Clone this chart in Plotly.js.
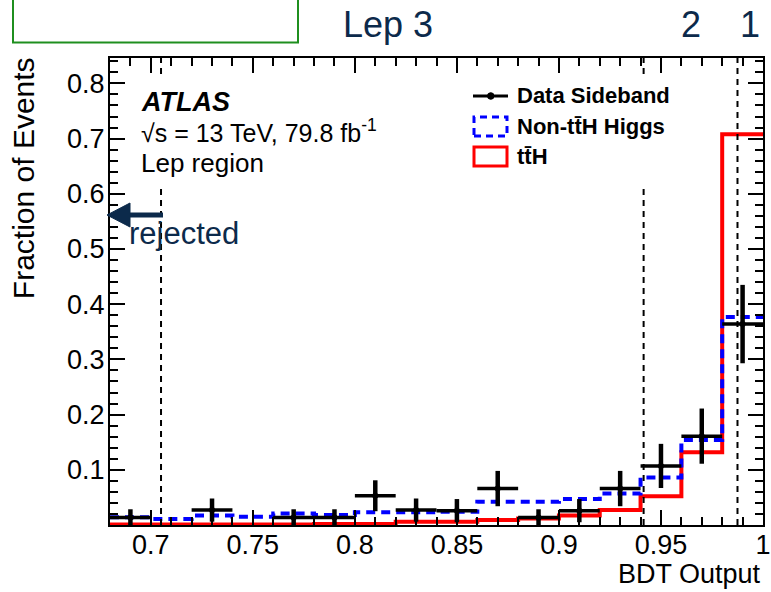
<!DOCTYPE html>
<html>
<head>
<meta charset="utf-8">
<script src="https://cdn.plot.ly/plotly-3.0.1.min.js"></script>
<style>
  html, body { margin: 0; padding: 0; background: #ffffff; }
  #chart { width: 771px; height: 592px; }
</style>
</head>
<body>
<div id="chart"></div>
<script>
// BDT output binning: 16 bins of width 0.02
const binEdges = [0.68, 0.70, 0.72, 0.74, 0.76, 0.78, 0.80, 0.82, 0.84,
                  0.86, 0.88, 0.90, 0.92, 0.94, 0.96, 0.98, 1.00];

// Normalised shapes (fraction of events per bin)
const ttH         = [0.001, 0.001, 0.001, 0.001, 0.001, 0.002, 0.002, 0.006,
                     0.006, 0.009, 0.012, 0.017, 0.027, 0.052, 0.132, 0.708];
const nonTTHHiggs = [0.014, 0.011, 0.017, 0.015, 0.021, 0.018, 0.023, 0.023,
                     0.024, 0.042, 0.042, 0.047, 0.057, 0.086, 0.154, 0.377];

// Sideband data (empty bins are null)
const dataSideband = [0.0135, null, 0.027, null, 0.0135, 0.0135, 0.053, 0.027,
                      0.026, 0.066, 0.0135, 0.026, 0.066, 0.107, 0.161, 0.364];
const dataError    = [0.015, null, 0.021, null, 0.015, 0.015, 0.028, 0.021,
                      0.021, 0.032, 0.015, 0.021, 0.032, 0.040, 0.050, 0.071];

// Category boundaries on the BDT output and their names
const categoryCuts   = [0.705, 0.9415, 0.9875];
const categoryLabels = ['Lep 3', '2', '1'];

// Axis ticks
const xTickVals = [0.7, 0.75, 0.8, 0.85, 0.9, 0.95, 1.0];
const xTickText = ['0.7', '0.75', '0.8', '0.85', '0.9', '0.95', '1'];
const yTickVals = [0.1, 0.2, 0.3, 0.4, 0.5, 0.6, 0.7, 0.8];
const yTickText = ['0.1', '0.2', '0.3', '0.4', '0.5', '0.6', '0.7', '0.8'];

const FONT = 'Liberation Sans, Arial, Helvetica, sans-serif';
const NAVY = '#0c2a4b';

// step outline: one point per left edge plus the closing right edge
function stepY(vals) { return vals.concat([vals[vals.length - 1]]); }

const filled = dataSideband.map((v, i) => (v === null ? -1 : i)).filter(i => i >= 0);

const traces = [
  {
    type: 'scatter', mode: 'lines', name: 'tt\u0304H',
    x: binEdges, y: stepY(ttH),
    line: { shape: 'hv', color: '#ff0000', width: 4 },
    showlegend: false, hoverinfo: 'skip'
  },
  {
    type: 'scatter', mode: 'lines', name: 'Non-tt\u0304H Higgs',
    x: binEdges, y: stepY(nonTTHHiggs),
    line: { shape: 'hv', color: '#0000ff', width: 4, dash: '9px,6px' },
    showlegend: false, hoverinfo: 'skip'
  },
  {
    type: 'scatter', mode: 'markers', name: 'Data Sideband',
    x: filled.map(i => (binEdges[i] + binEdges[i + 1]) / 2),
    y: filled.map(i => dataSideband[i]),
    error_x: { type: 'data', array: filled.map(i => (binEdges[i + 1] - binEdges[i]) / 2),
               color: '#000000', thickness: 3.5, width: 0 },
    error_y: { type: 'data', array: filled.map(i => dataError[i]),
               color: '#000000', thickness: 4.5, width: 0 },
    marker: { color: '#000000', size: 6 },
    showlegend: false, hoverinfo: 'skip'
  }
];

// paper-coordinate helpers for the 653 x 467 px frame
const px = v => (v - 110) / 653;
const py = v => (525 - v) / 467;

const shapes = [];
// dashed category boundaries
categoryCuts.forEach(c => shapes.push({
  type: 'line', xref: 'x', yref: 'paper', x0: c, x1: c, y0: 0, y1: 1,
  line: { color: '#000000', width: 2, dash: '6px,5px' }, layer: 'above'
}));
// white panes behind the ATLAS label and the legend
shapes.push({ type: 'rect', xref: 'paper', yref: 'paper',
  x0: px(130), x1: px(400), y0: py(185), y1: py(74),
  fillcolor: '#ffffff', line: { width: 0 }, layer: 'above' });
shapes.push({ type: 'rect', xref: 'paper', yref: 'paper',
  x0: px(465), x1: px(700), y0: py(185), y1: py(74),
  fillcolor: '#ffffff', line: { width: 0 }, layer: 'above' });
// legend symbols
shapes.push({ type: 'line', xref: 'paper', yref: 'paper',
  x0: px(473), x1: px(508), y0: py(96), y1: py(96),
  line: { color: '#000000', width: 3 }, layer: 'above' });
shapes.push({ type: 'circle', xref: 'paper', yref: 'paper',
  x0: px(487.5), x1: px(494), y0: py(99.3), y1: py(92.7),
  fillcolor: '#000000', line: { color: '#000000', width: 1 }, layer: 'above' });
shapes.push({ type: 'rect', xref: 'paper', yref: 'paper',
  x0: px(474), x1: px(507), y0: py(136), y1: py(117),
  line: { color: '#0000ff', width: 3, dash: '7px,5px' }, layer: 'above' });
shapes.push({ type: 'rect', xref: 'paper', yref: 'paper',
  x0: px(474), x1: px(507), y0: py(166), y1: py(147),
  line: { color: '#ff0000', width: 3 }, layer: 'above' });
// "rejected" arrow
shapes.push({ type: 'line', xref: 'paper', yref: 'paper',
  x0: px(126), x1: px(163), y0: py(215), y1: py(215),
  line: { color: NAVY, width: 5 }, layer: 'above' });
shapes.push({ type: 'path', xref: 'paper', yref: 'paper',
  path: 'M' + px(107) + ',' + py(215) + ' L' + px(130) + ',' + py(203) +
        ' L' + px(130) + ',' + py(227) + ' Z',
  fillcolor: NAVY, line: { color: NAVY, width: 1 }, layer: 'above' });
// green frame at the top left
shapes.push({ type: 'rect', xref: 'paper', yref: 'paper',
  x0: px(13), x1: px(298), y0: py(42.5), y1: py(-20),
  line: { color: '#1f8f1f', width: 2 }, layer: 'above' });

const annotations = [
  // category names above the frame
  { xref: 'x', yref: 'paper', x: 0.816, y: py(25), text: categoryLabels[0],
    showarrow: false, xanchor: 'center', yanchor: 'middle',
    font: { family: FONT, size: 36, color: NAVY } },
  { xref: 'x', yref: 'paper', x: (categoryCuts[1] + categoryCuts[2]) / 2, y: py(25),
    text: categoryLabels[1], showarrow: false, xanchor: 'center', yanchor: 'middle',
    font: { family: FONT, size: 36, color: NAVY } },
  { xref: 'x', yref: 'paper', x: (categoryCuts[2] + binEdges[binEdges.length - 1]) / 2,
    y: py(25), text: categoryLabels[2], showarrow: false, xanchor: 'center', yanchor: 'middle',
    font: { family: FONT, size: 36, color: NAVY } },
  { xref: 'paper', yref: 'paper', x: px(127), y: py(234), text: 'rejected',
    showarrow: false, xanchor: 'left', yanchor: 'middle',
    font: { family: FONT, size: 31, color: NAVY } },
  // ATLAS label
  { xref: 'paper', yref: 'paper', x: px(139), y: py(102), text: '<b><i>ATLAS</i></b>',
    showarrow: false, xanchor: 'left', yanchor: 'middle',
    font: { family: FONT, size: 27, color: '#000000' } },
  { xref: 'paper', yref: 'paper', x: px(139), y: py(131), text: '\u221As = 13 TeV, 79.8 fb<sup>-1</sup>',
    showarrow: false, xanchor: 'left', yanchor: 'middle',
    font: { family: FONT, size: 25, color: '#000000' } },
  { xref: 'paper', yref: 'paper', x: px(139), y: py(163), text: 'Lep region',
    showarrow: false, xanchor: 'left', yanchor: 'middle',
    font: { family: FONT, size: 26, color: '#000000' } },
  // legend entries
  { xref: 'paper', yref: 'paper', x: px(515), y: py(96), text: '<b>Data Sideband</b>',
    showarrow: false, xanchor: 'left', yanchor: 'middle',
    font: { family: FONT, size: 22, color: '#000000' } },
  { xref: 'paper', yref: 'paper', x: px(515), y: py(126), text: '<b>Non-tt\u0304H Higgs</b>',
    showarrow: false, xanchor: 'left', yanchor: 'middle',
    font: { family: FONT, size: 22, color: '#000000' } },
  { xref: 'paper', yref: 'paper', x: px(515), y: py(156), text: '<b>tt\u0304H</b>',
    showarrow: false, xanchor: 'left', yanchor: 'middle',
    font: { family: FONT, size: 22, color: '#000000' } },
  // axis titles, aligned to the frame ends
  { xref: 'paper', yref: 'paper', x: 1, y: py(574), text: 'BDT Output',
    showarrow: false, xanchor: 'right', yanchor: 'middle',
    font: { family: FONT, size: 27, color: '#000000' } },
  { xref: 'paper', yref: 'paper', x: px(23.5), y: 1.005, text: 'Fraction of Events',
    showarrow: false, xanchor: 'center', yanchor: 'top', textangle: -90,
    font: { family: FONT, size: 30, color: '#000000' } }
];

const axisCommon = {
  showline: true, linecolor: '#000000', linewidth: 2, mirror: 'ticks',
  ticks: 'inside', ticklen: 15, tickwidth: 2, tickcolor: '#000000',
  showgrid: false, zeroline: false, fixedrange: true,
  tickfont: { family: FONT, size: 27, color: '#000000' }
};

const layout = {
  width: 771, height: 592,
  margin: { l: 110, r: 8, t: 58, b: 67, pad: 0 },
  paper_bgcolor: '#ffffff', plot_bgcolor: '#ffffff',
  showlegend: false,
  xaxis: Object.assign({}, axisCommon, {
    range: [binEdges[0], binEdges[binEdges.length - 1]],
    tickmode: 'array', tickvals: xTickVals, ticktext: xTickText,
    ticklabelstandoff: -5,
    minor: { dtick: 0.01, tick0: 0.68, ticks: 'inside', ticklen: 8, tickwidth: 2, tickcolor: '#000000' }
  }),
  yaxis: Object.assign({}, axisCommon, {
    range: [0, 0.846],
    tickmode: 'array', tickvals: yTickVals, ticktext: yTickText,
    ticklabelstandoff: -2,
    minor: { dtick: 0.02, tick0: 0, ticks: 'inside', ticklen: 8, tickwidth: 2, tickcolor: '#000000' }
  }),
  shapes: shapes,
  annotations: annotations
};

Plotly.newPlot('chart', traces, layout, { displayModeBar: false, staticPlot: true });
</script>
</body>
</html>
